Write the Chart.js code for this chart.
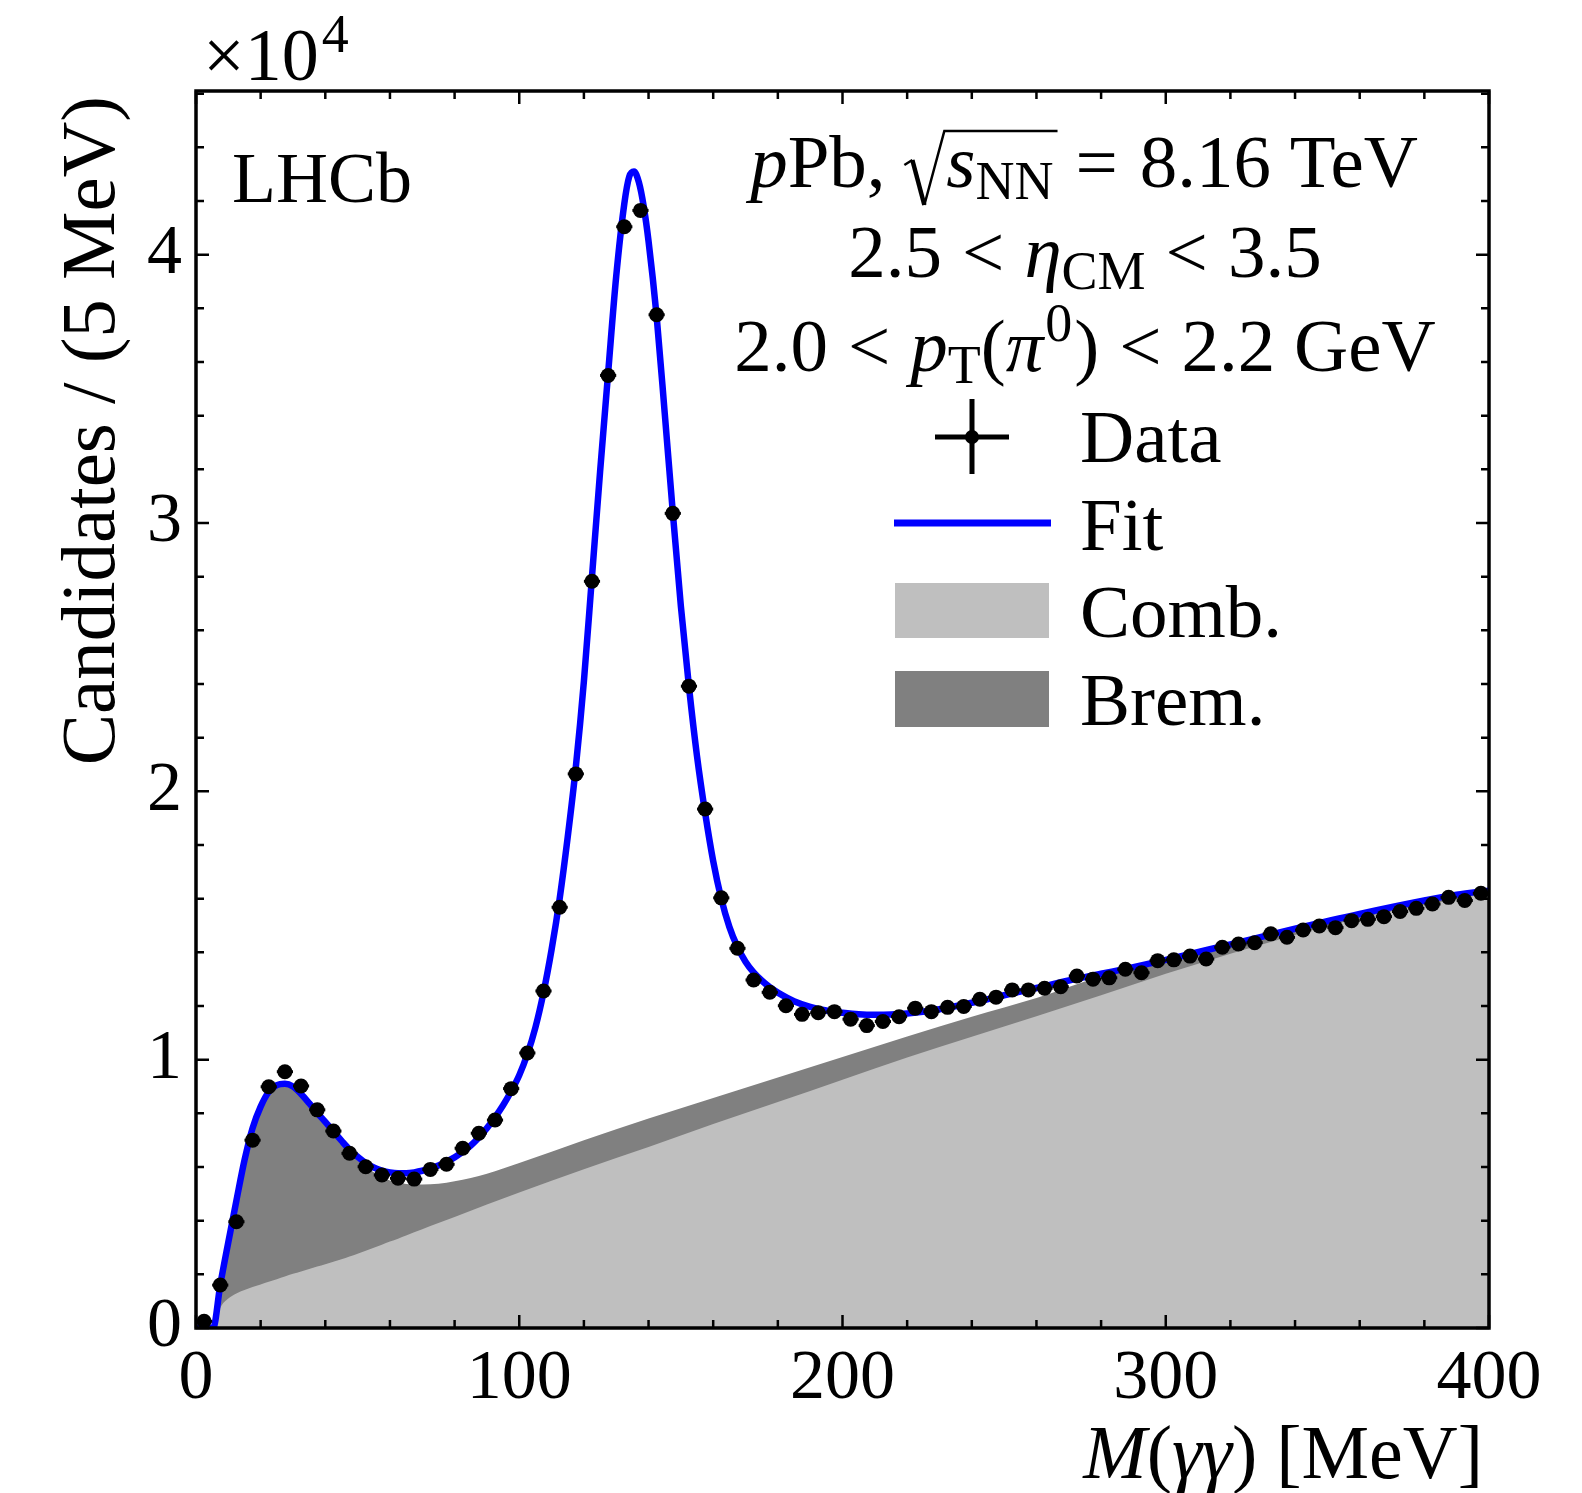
<!DOCTYPE html>
<html>
<head>
<meta charset="utf-8">
<script src="https://cdn.jsdelivr.net/npm/chart.js@4.4.0/dist/chart.umd.min.js"></script>
<style>
  html, body { margin: 0; padding: 0; background: #fff; overflow: hidden; }
  canvas { display: block; }
</style>
</head>
<body>
<canvas id="massChart" width="1582" height="1493"></canvas>
<script>
// M(gamma gamma) bin centres [MeV], 5 MeV bins
const binCenters = [
  2.5, 7.5, 12.5, 17.5, 22.5, 27.5, 32.5, 37.5, 42.5, 47.5,
  52.5, 57.5, 62.5, 67.5, 72.5, 77.5, 82.5, 87.5, 92.5, 97.5,
  102.5, 107.5, 112.5, 117.5, 122.5, 127.5, 132.5, 137.5, 142.5, 147.5,
  152.5, 157.5, 162.5, 167.5, 172.5, 177.5, 182.5, 187.5, 192.5, 197.5,
  202.5, 207.5, 212.5, 217.5, 222.5, 227.5, 232.5, 237.5, 242.5, 247.5,
  252.5, 257.5, 262.5, 267.5, 272.5, 277.5, 282.5, 287.5, 292.5, 297.5,
  302.5, 307.5, 312.5, 317.5, 322.5, 327.5, 332.5, 337.5, 342.5, 347.5,
  352.5, 357.5, 362.5, 367.5, 372.5, 377.5, 382.5, 387.5, 392.5, 397.5
];
const candidates = [
  250, 1600, 3960, 7000, 8990, 9550, 9020, 8130, 7340, 6510,
  6010, 5700, 5580, 5550, 5910, 6100, 6700, 7260, 7750, 8920,
  10250, 12560, 15680, 20650, 27830, 35500, 41040, 41650, 37760, 30360,
  23920, 19340, 16030, 14150, 12970, 12510, 12010, 11690, 11750, 11790,
  11510, 11270, 11420, 11600, 11920, 11790, 11950, 11980, 12250, 12330,
  12600, 12600, 12660, 12720, 13120, 13000, 13050, 13370, 13240, 13690,
  13720, 13860, 13750, 14190, 14310, 14360, 14690, 14560, 14830, 14980,
  14920, 15180, 15230, 15330, 15520, 15640, 15800, 16050, 15930, 16200
];

// fit curve
const fitMass = [
  0, 5.3, 7.5, 10, 12.5, 15, 17.5, 20, 22.5, 25, 27.5, 30, 32.5, 35, 37.5, 40,
  42.5, 45, 47.5, 50, 52.5, 55, 57.5, 60, 62.5, 65, 67.5, 70, 72.5, 75, 77.5, 80,
  82.5, 85, 87.5, 90, 92.5, 95, 97.5, 100, 102.5, 105, 107.5, 110, 112.5, 115,
  117.5, 120, 122.5, 125, 127.5, 130, 132.5, 134, 135.5, 137, 138.5, 140, 142.5,
  145, 147.5, 150, 152.5, 155, 157.5, 160, 162.5, 165, 167.5, 170, 172.5, 175,
  177.5, 180, 185, 190, 195, 200, 205, 210, 215, 220, 230, 240, 250, 260, 270,
  280, 290, 300, 320, 340, 360, 380, 390, 400
];
const fitValues = [
  0, 0, 1600, 3200, 4750, 6250, 7450, 8250, 8800, 9050, 9100, 9000, 8720, 8380, 8020, 7680,
  7330, 6980, 6650, 6380, 6150, 5980, 5870, 5800, 5770, 5770, 5800, 5860, 5950, 6060, 6200, 6360,
  6560, 6800, 7100, 7450, 7850, 8300, 8820, 9420, 10200, 11200, 12500, 14100, 16000, 18300,
  20900, 24100, 28000, 31900, 35600, 39200, 41900, 42900, 43100, 42700, 41800, 40500, 37700,
  34100, 30400, 26900, 23900, 21300, 19200, 17400, 16000, 14950, 14200, 13650, 13250, 12950,
  12700, 12500, 12180, 11970, 11830, 11750, 11690, 11670, 11680, 11720, 11880, 12120, 12400, 12670, 12950,
  13200, 13450, 13720, 14300, 14880, 15430, 15930, 16150, 16300
];

// background components
const bkgMass = [
  0, 4.5, 5.5, 7.5, 10, 12.5, 15, 17.5, 20, 22.5, 25, 27.5, 30, 32.5, 35, 37.5,
  40, 42.5, 45, 47.5, 50, 52.5, 55, 57.5, 60, 62.5, 65, 70, 75, 80, 90, 100,
  120, 140, 160, 180, 200, 220, 240, 260, 280, 300, 320, 340, 360, 380, 400
];
const combValues = [
  0, 0, 20, 750, 1100, 1290, 1420, 1530, 1620, 1720, 1820, 1920, 2020, 2110, 2200, 2290,
  2380, 2470, 2560, 2660, 2770, 2880, 2990, 3100, 3220, 3330, 3450, 3680, 3910, 4140, 4600, 5050,
  5920, 6750, 7600, 8420, 9250, 10080, 10850, 11620, 12400, 13200, 13950, 14650, 15270, 15760, 16200
];
// Comb. + Brem. stacked
const bremStackValues = [
  0, 0, 300, 1500, 3000, 4600, 6100, 7350, 8200, 8750, 9000, 9050, 8950, 8650, 8300, 7950,
  7600, 7250, 6900, 6550, 6250, 6000, 5800, 5620, 5500, 5420, 5370, 5350, 5380, 5470, 5750, 6150,
  7000, 7810, 8570, 9340, 10100, 10860, 11600, 12300, 13100, 13650, 14220, 14820, 15370, 15860, 16250
];

const xTicks = [0, 100, 200, 300, 400];
const yTickLabels = ["0", "1", "2", "3", "4"];

const SERIF = "'Liberation Serif', 'DejaVu Serif', serif";
const rm = (s) => `${s}px ${SERIF}`;
const it = (s) => `italic ${s}px ${SERIF}`;

const pts = (xs, ys) => xs.map((x, i) => ({ x, y: ys[i] }));

// draws a list of text runs, with optional sqrt sign
function drawRuns(ctx, runs, x, y, align) {
  let w = 0;
  runs.forEach((r) => {
    if (r.rad) { w += r.rad; return; }
    ctx.font = r.f;
    w += ctx.measureText(r.t).width + (r.gap || 0) + (r.pre || 0);
  });
  let cx = align === "center" ? x - w / 2 : align === "right" ? x - w : x;
  let radStart = null;
  ctx.textAlign = "left";
  ctx.textBaseline = "alphabetic";
  runs.forEach((r) => {
    if (r.rad) { radStart = cx; cx += r.rad; return; }
    ctx.font = r.f;
    cx += r.pre || 0;
    ctx.fillText(r.t, cx, y + (r.dy || 0));
    cx += ctx.measureText(r.t).width + (r.gap || 0);
    if (r.radEnd && radStart !== null) {
      const x0 = radStart;
      ctx.save();
      ctx.lineJoin = "miter";
      ctx.beginPath();
      ctx.lineWidth = 2.5;
      ctx.moveTo(x0, y - 22);
      ctx.lineTo(x0 + 8, y - 27);
      ctx.stroke();
      ctx.beginPath();
      ctx.lineWidth = 4.5;
      ctx.moveTo(x0 + 8, y - 27);
      ctx.lineTo(x0 + 20, y + 18);
      ctx.stroke();
      ctx.beginPath();
      ctx.lineWidth = 2.5;
      ctx.moveTo(x0 + 20, y + 18);
      ctx.lineTo(x0 + 40, y - 56);
      ctx.lineTo(cx + 4, y - 56);
      ctx.stroke();
      ctx.restore();
      radStart = null;
    }
  });
}

const errorBars = {
  id: "errorBars",
  afterDatasetsDraw(chart) {
    const { ctx, scales: { x, y } } = chart;
    ctx.save();
    ctx.beginPath();
    ctx.rect(chart.chartArea.left, chart.chartArea.top,
      chart.chartArea.right - chart.chartArea.left, chart.chartArea.bottom - chart.chartArea.top);
    ctx.clip();
    ctx.strokeStyle = "#000";
    ctx.lineWidth = 3;
    binCenters.forEach((c, i) => {
      const py = y.getPixelForValue(candidates[i]);
      ctx.beginPath();
      ctx.moveTo(x.getPixelForValue(c - 2.5), py);
      ctx.lineTo(x.getPixelForValue(c + 2.5), py);
      ctx.stroke();
    });
    ctx.restore();
  },
};

const frameAndText = {
  id: "frameAndText",
  afterDraw(chart) {
    const { ctx, chartArea: a, scales: { x, y } } = chart;
    ctx.save();
    ctx.strokeStyle = "#000";
    ctx.fillStyle = "#000";

    // inward ticks on all four sides
    ctx.lineWidth = 2.5;
    for (let v = 0; v <= 400; v += 20) {
      const px = x.getPixelForValue(v);
      const len = v % 100 === 0 ? 13 : 8;
      ctx.beginPath();
      ctx.moveTo(px, a.bottom); ctx.lineTo(px, a.bottom - len);
      ctx.moveTo(px, a.top); ctx.lineTo(px, a.top + len);
      ctx.stroke();
    }
    for (let v = 0; v <= 46000; v += 2000) {
      const py = y.getPixelForValue(v);
      const len = v % 10000 === 0 ? 13 : 8;
      ctx.beginPath();
      ctx.moveTo(a.left, py); ctx.lineTo(a.left + len, py);
      ctx.moveTo(a.right, py); ctx.lineTo(a.right - len, py);
      ctx.stroke();
    }
    ctx.lineWidth = 3.5;
    ctx.strokeRect(a.left, a.top, a.right - a.left, a.bottom - a.top);

    // exponent
    drawRuns(ctx, [{ t: "\u00d710", f: rm(74) }, { t: "4", f: rm(54), dy: -28, pre: 3 }], 203, 80, "left");

    // axis titles
    drawRuns(ctx, [
      { t: "M", f: it(76) }, { t: "(", f: rm(76) }, { t: "\u03b3\u03b3", f: it(76) },
      { t: ") [MeV]", f: rm(76) },
    ], 1483, 1478, "right");
    ctx.save();
    ctx.translate(114, 96);
    ctx.rotate(-Math.PI / 2);
    ctx.font = rm(77);
    ctx.textAlign = "right";
    ctx.textBaseline = "alphabetic";
    ctx.fillText("Candidates / (5 MeV)", 0, 0);
    ctx.restore();

    // labels
    drawRuns(ctx, [{ t: "LHCb", f: rm(72) }], 232, 202, "left");
    drawRuns(ctx, [
      { t: "p", f: it(75) }, { t: "Pb, ", f: rm(75) }, { rad: 42 },
      { t: "s", f: it(75) }, { t: "NN", f: rm(54), dy: 12, radEnd: true },
      { t: "=", f: rm(75), pre: 22, gap: 22 },
      { t: "8.16 TeV", f: rm(75) },
    ], 1084, 187, "center");
    drawRuns(ctx, [
      { t: "2.5", f: rm(75) }, { t: "<", f: rm(75), pre: 20, gap: 20 },
      { t: "\u03b7", f: it(75) }, { t: "CM", f: rm(54), dy: 12 },
      { t: "<", f: rm(75), pre: 20, gap: 20 }, { t: "3.5", f: rm(75) },
    ], 1085, 277, "center");
    drawRuns(ctx, [
      { t: "2.0", f: rm(75) }, { t: "<", f: rm(75), pre: 20, gap: 20 },
      { t: "p", f: it(75) }, { t: "T", f: rm(54), dy: 12 },
      { t: "(", f: rm(75) }, { t: "\u03c0", f: it(75) }, { t: "0", f: rm(54), dy: -30, pre: 2 },
      { t: ")", f: rm(75), pre: 2 }, { t: "<", f: rm(75), pre: 20, gap: 20 },
      { t: "2.2 GeV", f: rm(75) },
    ], 1085, 371, "center");

    // legend
    ctx.lineWidth = 5;
    ctx.beginPath();
    ctx.moveTo(935, 437); ctx.lineTo(1009, 437);
    ctx.moveTo(972, 399); ctx.lineTo(972, 474);
    ctx.stroke();
    ctx.beginPath();
    ctx.arc(972, 437, 7, 0, Math.PI * 2);
    ctx.fill();
    ctx.strokeStyle = "#0000ff";
    ctx.lineWidth = 7;
    ctx.beginPath();
    ctx.moveTo(894, 523); ctx.lineTo(1051, 523);
    ctx.stroke();
    ctx.fillStyle = "#bfbfbf";
    ctx.fillRect(895, 583, 154, 55);
    ctx.fillStyle = "#808080";
    ctx.fillRect(895, 671, 154, 56);
    ctx.fillStyle = "#000";
    drawRuns(ctx, [{ t: "Data", f: rm(75) }], 1080, 462, "left");
    drawRuns(ctx, [{ t: "Fit", f: rm(75) }], 1080, 550, "left");
    drawRuns(ctx, [{ t: "Comb.", f: rm(75) }], 1080, 637, "left");
    drawRuns(ctx, [{ t: "Brem.", f: rm(75) }], 1080, 725, "left");
    ctx.restore();
  },
};

const ctx = document.getElementById("massChart").getContext("2d");
const chart = new Chart(ctx, {
  type: "line",
  data: {
    datasets: [
      {
        label: "Data",
        type: "scatter",
        data: pts(binCenters, candidates),
        pointRadius: 7.5,
        pointBackgroundColor: "#000",
        pointBorderWidth: 0,
        showLine: false,
      },
      {
        label: "Fit",
        data: pts(fitMass, fitValues),
        borderColor: "#0000ff",
        borderWidth: 6.5,
        pointRadius: 0,
        fill: false,
        cubicInterpolationMode: "monotone",
      },
      {
        label: "Comb.",
        data: pts(bkgMass, combValues),
        borderColor: "rgba(0,0,0,0)",
        borderWidth: 0,
        backgroundColor: "#bfbfbf",
        pointRadius: 0,
        fill: "origin",
        cubicInterpolationMode: "monotone",
      },
      {
        label: "Brem.",
        data: pts(bkgMass, bremStackValues),
        borderColor: "rgba(0,0,0,0)",
        borderWidth: 0,
        backgroundColor: "#808080",
        pointRadius: 0,
        fill: "origin",
        cubicInterpolationMode: "monotone",
      },
    ],
  },
  options: {
    responsive: false,
    animation: false,
    devicePixelRatio: 1,
    events: [],
    layout: { padding: { top: 91, right: 93, left: 0, bottom: 0 } },
    scales: {
      x: {
        type: "linear",
        min: 0,
        max: 400,
        grid: { display: false },
        border: { display: false },
        afterFit: (s) => { s.height = 165; },
        afterBuildTicks: (s) => { s.ticks = xTicks.map((v) => ({ value: v })); },
        ticks: {
          color: "#000",
          padding: 2,
          maxRotation: 0,
          font: { family: SERIF, size: 70 },
          callback: (v) => String(v),
        },
      },
      y: {
        type: "linear",
        min: 0,
        max: 46100,
        grid: { display: false },
        border: { display: false },
        afterFit: (s) => { s.width = 196; },
        afterBuildTicks: (s) => { s.ticks = yTickLabels.map((_, i) => ({ value: i * 10000 })); },
        ticks: {
          color: "#000",
          padding: 6,
          font: { family: SERIF, size: 70 },
          callback: (v) => yTickLabels[Math.round(v / 10000)],
        },
      },
    },
    plugins: {
      legend: { display: false },
      tooltip: { enabled: false },
    },
  },
  plugins: [errorBars, frameAndText],
});
</script>
</body>
</html>
